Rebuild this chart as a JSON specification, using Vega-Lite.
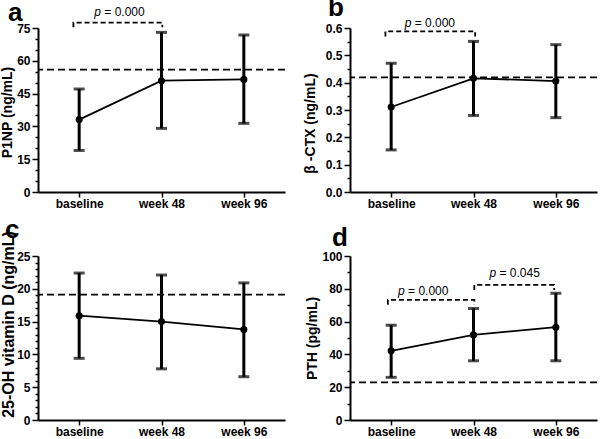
{
  "$schema": "https://vega.github.io/schema/vega-lite/v6.json",
  "padding": {"left": 0, "top": -5, "right": 0, "bottom": 0},
  "bounds": "flush",
  "columns": 2,
  "spacing": {"row": 64, "column": 65},
  "config": {
    "font": "Liberation Sans",
    "view": {"stroke": null},
    "axis": {
      "grid": false,
      "ticks": true,
      "domainColor": "black",
      "domainWidth": 2,
      "tickColor": "black",
      "tickWidth": 1.5,
      "labelColor": "black",
      "labelFont": "Liberation Sans",
      "labelFontSize": 12,
      "labelFontWeight": "bold",
      "labelPadding": 2,
      "titleFont": "Liberation Sans",
      "titleFontSize": 14,
      "titleFontWeight": "bold",
      "titleColor": "black",
      "titlePadding": 2,
      "labelOverlap": false,
      "labelFlush": false
    },
    "title": {"font": "Liberation Sans", "fontSize": 26, "fontWeight": "bold", "color": "black", "anchor": "start", "frame": "group"}
  },
  "concat": [
    {
      "width": 247, "height": 164,
      "title": {"text": "a", "dx": -30, "dy": 20, "offset": 0},
      "resolve": {"axis": {"y": "independent"}},
      "data": {"values": [
        {"t": 0, "visit": "baseline", "mean": 33.1, "lo": 19.0, "hi": 47.1},
        {"t": 1, "visit": "week 48", "mean": 50.9, "lo": 29.1, "hi": 73.0},
        {"t": 2, "visit": "week 96", "mean": 51.5, "lo": 31.4, "hi": 71.8}
      ]},
      "layer": [
        {
          "data": {"values": [{"ref": 56.0}]},
          "mark": {"type": "rule", "color": "black", "strokeDash": [7, 4], "strokeWidth": 1.8},
          "encoding": {"y": {"field": "ref", "type": "quantitative", "title": "P1NP (ng/mL)",
            "scale": {"domain": [0, 75], "nice": false},
            "axis": {"orient": "left", "values": [0, 15, 30, 45, 60, 75], "tickSize": 6, "titleY": 84}}}
        },
        {
          "mark": {"type": "rule", "color": "black", "strokeWidth": 3},
          "encoding": {
            "x": {"field": "t", "type": "quantitative", "scale": {"domain": [-0.5, 2.5], "nice": false, "zero": false},
              "axis": {"values": [0, 1, 2], "labelExpr": "['baseline','week 48','week 96'][datum.value]", "tickSize": 5, "title": null, "labelPadding": 1}},
            "y": {"field": "lo", "type": "quantitative",
              "axis": {"orient": "left", "values": [5, 10, 20, 25, 35, 40, 50, 55, 65, 70], "labels": false, "domain": false, "tickSize": 3, "title": null}},
            "y2": {"field": "hi"}
          }
        },
        {
          "mark": {"type": "tick", "orient": "horizontal", "color": "black", "thickness": 3, "size": 11},
          "encoding": {"x": {"field": "t", "type": "quantitative"}, "y": {"field": "lo", "type": "quantitative", "axis": null}}
        },
        {
          "mark": {"type": "tick", "orient": "horizontal", "color": "black", "thickness": 3, "size": 11},
          "encoding": {"x": {"field": "t", "type": "quantitative"}, "y": {"field": "hi", "type": "quantitative", "axis": null}}
        },
        {
          "mark": {"type": "line", "color": "black", "strokeWidth": 1.8},
          "encoding": {"x": {"field": "t", "type": "quantitative"}, "y": {"field": "mean", "type": "quantitative", "axis": null}}
        },
        {
          "mark": {"type": "point", "filled": true, "color": "black", "opacity": 1, "size": 50},
          "encoding": {"x": {"field": "t", "type": "quantitative"}, "y": {"field": "mean", "type": "quantitative", "axis": null}}
        },
        {
          "data": {"values": [
            {"g": 1, "o": 1, "t": -0.07, "y": 75.3},
            {"g": 1, "o": 2, "t": -0.07, "y": 77.5},
            {"g": 1, "o": 3, "t": 1.01, "y": 77.5},
            {"g": 1, "o": 4, "t": 1.01, "y": 75.3}
          ]},
          "mark": {"type": "line", "color": "black", "strokeWidth": 1.8, "strokeDash": [5, 3], "clip": false},
          "encoding": {"x": {"field": "t", "type": "quantitative"}, "y": {"field": "y", "type": "quantitative", "axis": null}, "detail": {"field": "g"}, "order": {"field": "o"}}
        },
        {
          "data": {"values": [{"t": 0.49, "y": 82.4, "sym": "p", "val": "= 0.000"}]},
          "layer": [
            {"mark": {"type": "text", "fontStyle": "italic", "fontSize": 12, "align": "right", "baseline": "middle", "dx": -18.5, "color": "black"},
             "encoding": {"x": {"field": "t", "type": "quantitative"}, "y": {"field": "y", "type": "quantitative", "axis": null}, "text": {"field": "sym"}}},
            {"mark": {"type": "text", "fontSize": 12, "align": "left", "baseline": "middle", "dx": -15.2, "color": "black"},
             "encoding": {"x": {"field": "t", "type": "quantitative"}, "y": {"field": "y", "type": "quantitative", "axis": null}, "text": {"field": "val"}}}
          ]
        }
      ]
    },
    {
      "width": 247, "height": 164,
      "title": {"text": "b", "dx": -22, "dy": 4, "offset": 0},
      "resolve": {"axis": {"y": "independent"}},
      "data": {"values": [
        {"t": 0, "visit": "baseline", "mean": 0.311, "lo": 0.154, "hi": 0.471},
        {"t": 1, "visit": "week 48", "mean": 0.416, "lo": 0.280, "hi": 0.551},
        {"t": 2, "visit": "week 96", "mean": 0.406, "lo": 0.272, "hi": 0.539}
      ]},
      "layer": [
        {
          "data": {"values": [{"ref": 0.419}]},
          "mark": {"type": "rule", "color": "black", "strokeDash": [7, 4], "strokeWidth": 1.8},
          "encoding": {"y": {"field": "ref", "type": "quantitative", "title": "β -CTX (ng/mL)",
            "scale": {"domain": [0, 0.6], "nice": false},
            "axis": {"orient": "left", "values": [0, 0.1, 0.2, 0.3, 0.4, 0.5, 0.6], "format": ".1f", "tickSize": 6, "titlePadding": 8, "titleY": 95}}}
        },
        {
          "mark": {"type": "rule", "color": "black", "strokeWidth": 3},
          "encoding": {
            "x": {"field": "t", "type": "quantitative", "scale": {"domain": [-0.5, 2.5], "nice": false, "zero": false},
              "axis": {"values": [0, 1, 2], "labelExpr": "['baseline','week 48','week 96'][datum.value]", "tickSize": 5, "title": null, "labelPadding": 1}},
            "y": {"field": "lo", "type": "quantitative",
              "axis": {"orient": "left", "values": [0.05, 0.15, 0.25, 0.35, 0.45, 0.55], "labels": false, "domain": false, "tickSize": 3, "title": null}},
            "y2": {"field": "hi"}
          }
        },
        {
          "mark": {"type": "tick", "orient": "horizontal", "color": "black", "thickness": 3, "size": 11},
          "encoding": {"x": {"field": "t", "type": "quantitative"}, "y": {"field": "lo", "type": "quantitative", "axis": null}}
        },
        {
          "mark": {"type": "tick", "orient": "horizontal", "color": "black", "thickness": 3, "size": 11},
          "encoding": {"x": {"field": "t", "type": "quantitative"}, "y": {"field": "hi", "type": "quantitative", "axis": null}}
        },
        {
          "mark": {"type": "line", "color": "black", "strokeWidth": 1.8},
          "encoding": {"x": {"field": "t", "type": "quantitative"}, "y": {"field": "mean", "type": "quantitative", "axis": null}}
        },
        {
          "mark": {"type": "point", "filled": true, "color": "black", "opacity": 1, "size": 50},
          "encoding": {"x": {"field": "t", "type": "quantitative"}, "y": {"field": "mean", "type": "quantitative", "axis": null}}
        },
        {
          "data": {"values": [
            {"g": 1, "o": 1, "t": -0.07, "y": 0.569},
            {"g": 1, "o": 2, "t": -0.07, "y": 0.588},
            {"g": 1, "o": 3, "t": 1.02, "y": 0.588},
            {"g": 1, "o": 4, "t": 1.02, "y": 0.569}
          ]},
          "mark": {"type": "line", "color": "black", "strokeWidth": 1.8, "strokeDash": [5, 3], "clip": false},
          "encoding": {"x": {"field": "t", "type": "quantitative"}, "y": {"field": "y", "type": "quantitative", "axis": null}, "detail": {"field": "g"}, "order": {"field": "o"}}
        },
        {
          "data": {"values": [{"t": 0.47, "y": 0.618, "sym": "p", "val": "= 0.000"}]},
          "layer": [
            {"mark": {"type": "text", "fontStyle": "italic", "fontSize": 12, "align": "right", "baseline": "middle", "dx": -18.5, "color": "black"},
             "encoding": {"x": {"field": "t", "type": "quantitative"}, "y": {"field": "y", "type": "quantitative", "axis": null}, "text": {"field": "sym"}}},
            {"mark": {"type": "text", "fontSize": 12, "align": "left", "baseline": "middle", "dx": -15.2, "color": "black"},
             "encoding": {"x": {"field": "t", "type": "quantitative"}, "y": {"field": "y", "type": "quantitative", "axis": null}, "text": {"field": "val"}}}
          ]
        }
      ]
    },
    {
      "width": 247, "height": 164,
      "title": {"text": "c", "dx": -33, "dy": 12, "offset": 0},
      "resolve": {"axis": {"y": "independent"}},
      "data": {"values": [
        {"t": 0, "visit": "baseline", "mean": 15.9, "lo": 9.4, "hi": 22.4},
        {"t": 1, "visit": "week 48", "mean": 15.0, "lo": 7.8, "hi": 22.1},
        {"t": 2, "visit": "week 96", "mean": 13.8, "lo": 6.6, "hi": 20.9}
      ]},
      "layer": [
        {
          "data": {"values": [{"ref": 19.1}]},
          "mark": {"type": "rule", "color": "black", "strokeDash": [7, 4], "strokeWidth": 1.8},
          "encoding": {"y": {"field": "ref", "type": "quantitative", "title": "25-OH vitamin D (ng/mL)",
            "scale": {"domain": [0, 25], "nice": false},
            "axis": {"orient": "left", "values": [0, 5, 10, 15, 20, 25], "tickSize": 6, "titleFontSize": 16, "titlePadding": 0, "titleY": 68}}}
        },
        {
          "mark": {"type": "rule", "color": "black", "strokeWidth": 3},
          "encoding": {
            "x": {"field": "t", "type": "quantitative", "scale": {"domain": [-0.5, 2.5], "nice": false, "zero": false},
              "axis": {"values": [0, 1, 2], "labelExpr": "['baseline','week 48','week 96'][datum.value]", "tickSize": 5, "title": null, "labelPadding": 1}},
            "y": {"field": "lo", "type": "quantitative",
              "axis": {"orient": "left", "values": [1, 2, 3, 4, 6, 7, 8, 9, 11, 12, 13, 14, 16, 17, 18, 19, 21, 22, 23, 24], "labels": false, "domain": false, "tickSize": 3, "title": null}},
            "y2": {"field": "hi"}
          }
        },
        {
          "mark": {"type": "tick", "orient": "horizontal", "color": "black", "thickness": 3, "size": 11},
          "encoding": {"x": {"field": "t", "type": "quantitative"}, "y": {"field": "lo", "type": "quantitative", "axis": null}}
        },
        {
          "mark": {"type": "tick", "orient": "horizontal", "color": "black", "thickness": 3, "size": 11},
          "encoding": {"x": {"field": "t", "type": "quantitative"}, "y": {"field": "hi", "type": "quantitative", "axis": null}}
        },
        {
          "mark": {"type": "line", "color": "black", "strokeWidth": 1.8},
          "encoding": {"x": {"field": "t", "type": "quantitative"}, "y": {"field": "mean", "type": "quantitative", "axis": null}}
        },
        {
          "mark": {"type": "point", "filled": true, "color": "black", "opacity": 1, "size": 50},
          "encoding": {"x": {"field": "t", "type": "quantitative"}, "y": {"field": "mean", "type": "quantitative", "axis": null}}
        }
      ]
    },
    {
      "width": 247, "height": 164,
      "title": {"text": "d", "dx": -18, "dy": 1, "offset": 0},
      "resolve": {"axis": {"y": "independent"}},
      "data": {"values": [
        {"t": 0, "visit": "baseline", "mean": 42.2, "lo": 26.0, "hi": 57.8},
        {"t": 1, "visit": "week 48", "mean": 51.9, "lo": 36.1, "hi": 68.0},
        {"t": 2, "visit": "week 96", "mean": 56.6, "lo": 36.1, "hi": 77.3}
      ]},
      "layer": [
        {
          "data": {"values": [{"ref": 22.9}]},
          "mark": {"type": "rule", "color": "black", "strokeDash": [7, 4], "strokeWidth": 1.8},
          "encoding": {"y": {"field": "ref", "type": "quantitative", "title": "PTH (pg/mL)",
            "scale": {"domain": [0, 100], "nice": false},
            "axis": {"orient": "left", "values": [0, 20, 40, 60, 80, 100], "tickSize": 6}}}
        },
        {
          "mark": {"type": "rule", "color": "black", "strokeWidth": 3},
          "encoding": {
            "x": {"field": "t", "type": "quantitative", "scale": {"domain": [-0.5, 2.5], "nice": false, "zero": false},
              "axis": {"values": [0, 1, 2], "labelExpr": "['baseline','week 48','week 96'][datum.value]", "tickSize": 5, "title": null, "labelPadding": 1}},
            "y": {"field": "lo", "type": "quantitative",
              "axis": {"orient": "left", "values": [10, 30, 50, 70, 90], "labels": false, "domain": false, "tickSize": 3, "title": null}},
            "y2": {"field": "hi"}
          }
        },
        {
          "mark": {"type": "tick", "orient": "horizontal", "color": "black", "thickness": 3, "size": 11},
          "encoding": {"x": {"field": "t", "type": "quantitative"}, "y": {"field": "lo", "type": "quantitative", "axis": null}}
        },
        {
          "mark": {"type": "tick", "orient": "horizontal", "color": "black", "thickness": 3, "size": 11},
          "encoding": {"x": {"field": "t", "type": "quantitative"}, "y": {"field": "hi", "type": "quantitative", "axis": null}}
        },
        {
          "mark": {"type": "line", "color": "black", "strokeWidth": 1.8},
          "encoding": {"x": {"field": "t", "type": "quantitative"}, "y": {"field": "mean", "type": "quantitative", "axis": null}}
        },
        {
          "mark": {"type": "point", "filled": true, "color": "black", "opacity": 1, "size": 50},
          "encoding": {"x": {"field": "t", "type": "quantitative"}, "y": {"field": "mean", "type": "quantitative", "axis": null}}
        },
        {
          "data": {"values": [
            {"g": 1, "o": 1, "t": -0.04, "y": 70.2},
            {"g": 1, "o": 2, "t": -0.04, "y": 73.2},
            {"g": 1, "o": 3, "t": 1.01, "y": 73.2},
            {"g": 1, "o": 4, "t": 1.01, "y": 70.2},
            {"g": 2, "o": 1, "t": 1.01, "y": 79.3},
            {"g": 2, "o": 2, "t": 1.01, "y": 82.4},
            {"g": 2, "o": 3, "t": 1.98, "y": 82.4},
            {"g": 2, "o": 4, "t": 1.98, "y": 79.3}
          ]},
          "mark": {"type": "line", "color": "black", "strokeWidth": 1.8, "strokeDash": [5, 3], "clip": false},
          "encoding": {"x": {"field": "t", "type": "quantitative"}, "y": {"field": "y", "type": "quantitative", "axis": null}, "detail": {"field": "g"}, "order": {"field": "o"}}
        },
        {
          "data": {"values": [
            {"t": 0.39, "y": 78.7, "sym": "p", "val": "= 0.000"},
            {"t": 1.5, "y": 89.5, "sym": "p", "val": "= 0.045"}
          ]},
          "layer": [
            {"mark": {"type": "text", "fontStyle": "italic", "fontSize": 12, "align": "right", "baseline": "middle", "dx": -18.5, "color": "black"},
             "encoding": {"x": {"field": "t", "type": "quantitative"}, "y": {"field": "y", "type": "quantitative", "axis": null}, "text": {"field": "sym"}}},
            {"mark": {"type": "text", "fontSize": 12, "align": "left", "baseline": "middle", "dx": -15.2, "color": "black"},
             "encoding": {"x": {"field": "t", "type": "quantitative"}, "y": {"field": "y", "type": "quantitative", "axis": null}, "text": {"field": "val"}}}
          ]
        }
      ]
    }
  ]
}
